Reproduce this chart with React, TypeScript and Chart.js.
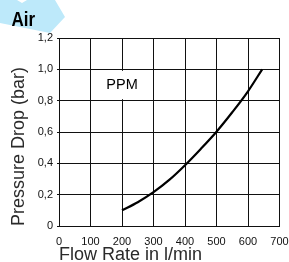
import React, { useEffect, useRef } from "react";
import { Chart, registerables } from "chart.js";

Chart.register(...registerables);

// Data
const flowRate = [200, 250, 300, 350, 400, 450, 500, 550, 600, 645];
const pressureDrop = [0.1, 0.152, 0.216, 0.294, 0.388, 0.492, 0.602, 0.726, 0.86, 1.0];
const xTickValues = [0, 100, 200, 300, 400, 500, 600, 700];
const yTickValues = [0, 0.2, 0.4, 0.6, 0.8, 1.0, 1.2];
const seriesLabel = "PPM";
const labelBoxX = [100, 300];
const labelBoxY = [0.8, 1.0];
const mediumLabel = "Air";
const xTitle = "Flow Rate in l/min";
const yTitle = "Pressure Drop (bar)";

const FONT = "'Liberation Sans', Arial, Helvetica, sans-serif";

const badgePlugin = {
  id: "badge",
  beforeDraw(chart: any) {
    const ctx = chart.ctx;
    ctx.save();
    ctx.fillStyle = "rgb(189,233,250)";
    ctx.beginPath();
    ctx.moveTo(0, 0);
    ctx.lineTo(17, 0);
    ctx.lineTo(22, 3);
    ctx.lineTo(27, 0);
    ctx.lineTo(55, 0);
    ctx.lineTo(65, 17);
    ctx.lineTo(50, 33);
    ctx.lineTo(0, 23);
    ctx.closePath();
    ctx.fill();
    ctx.fillStyle = "#000";
    ctx.font = `bold 20px ${FONT}`;
    ctx.textBaseline = "alphabetic";
    ctx.textAlign = "left";
    ctx.translate(11.5, 26);
    ctx.scale(0.85, 1);
    ctx.fillText(mediumLabel, 0, 0);
    ctx.restore();
  },
};

const seriesLabelPlugin = {
  id: "seriesLabel",
  beforeDatasetsDraw(chart: any) {
    const { ctx, scales } = chart;
    const x0 = scales.x.getPixelForValue(labelBoxX[0]);
    const x1 = scales.x.getPixelForValue(labelBoxX[1]);
    const y0 = scales.y.getPixelForValue(labelBoxY[1]);
    const y1 = scales.y.getPixelForValue(labelBoxY[0]);
    ctx.save();
    ctx.fillStyle = "#fff";
    ctx.fillRect(x0 + 1.5, y0 + 1.5, x1 - x0 - 3, y1 - y0 - 3);
    ctx.fillStyle = "#000";
    ctx.font = `14.5px ${FONT}`;
    ctx.textAlign = "center";
    ctx.textBaseline = "middle";
    ctx.fillText(seriesLabel, (x0 + x1) / 2, (y0 + y1) / 2);
    ctx.restore();
  },
};

export default function App() {
  const ref = useRef<HTMLCanvasElement | null>(null);
  useEffect(() => {
    if (!ref.current) return;
    const chart = new Chart(ref.current, {
      type: "line",
      data: {
        datasets: [
          {
            label: seriesLabel,
            data: flowRate.map((x, i) => ({ x, y: pressureDrop[i] })),
            borderColor: "#000",
            borderWidth: 2.2,
            pointRadius: 0,
            cubicInterpolationMode: "monotone",
            fill: false,
          },
        ],
      },
      options: {
        responsive: false,
        animation: false,
        events: [],
        layout: { padding: { top: 38, right: 0, left: 0, bottom: 0 } },
        plugins: { legend: { display: false }, tooltip: { enabled: false }, title: { display: false } },
        scales: {
          x: {
            type: "linear",
            min: 0,
            max: 700,
            afterBuildTicks: (s: any) => {
              s.ticks = xTickValues.map((v) => ({ value: v }));
            },
            afterFit: (s: any) => {
              s.height = 36;
              s.paddingRight = 9.5;
              s.paddingLeft = 0;
            },
            ticks: {
              color: "#111",
              font: { family: FONT, size: 11 },
              padding: 9,
              maxRotation: 0,
              autoSkip: false,
              callback: (v: any) => String(v),
            },
            grid: { color: "#111", lineWidth: 1, drawTicks: false },
            border: { color: "#111", width: 1 },
            title: {
              display: true,
              text: xTitle,
              align: "start",
              color: "#2a2a2a",
              font: { family: FONT, size: 18, lineHeight: 1 },
              padding: { top: 0, bottom: -2.5 },
            },
          },
          y: {
            type: "linear",
            min: 0,
            max: 1.2,
            afterBuildTicks: (s: any) => {
              s.ticks = yTickValues.map((v) => ({ value: v }));
            },
            afterFit: (s: any) => {
              s.width = 59;
            },
            ticks: {
              color: "#111",
              font: { family: FONT, size: 11 },
              padding: 4,
              autoSkip: false,
              callback: (v: any) => (v === 0 ? "0" : Number(v).toFixed(1).replace(".", ",")),
            },
            grid: { color: "#111", lineWidth: 1, drawTicks: true, tickLength: 2 },
            border: { color: "#111", width: 1 },
            title: {
              display: true,
              text: yTitle,
              align: "start",
              color: "#2a2a2a",
              font: { family: FONT, size: 18, lineHeight: 1 },
              padding: { top: 10, bottom: 0 },
            },
          },
        },
      },
      plugins: [badgePlugin, seriesLabelPlugin],
    } as any);
    return () => chart.destroy();
  }, []);
  return (
    <div style={{ position: "absolute", left: 0, top: 0, width: 289, height: 262 }}>
      <canvas ref={ref} width={289} height={262} style={{ display: "block", width: 289, height: 262 }} />
    </div>
  );
}
